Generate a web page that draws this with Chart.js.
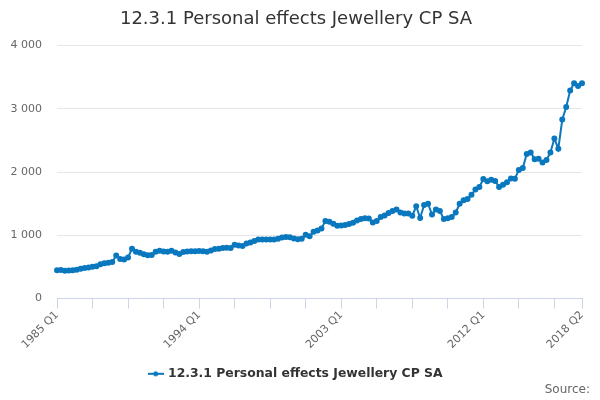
<!DOCTYPE html>
<html>
<head>
<meta charset="utf-8">
<script src="https://cdn.jsdelivr.net/npm/chart.js@4"></script>
<style>
  html, body { margin: 0; padding: 0; background: #fff; }
  #wrap { width: 600px; height: 400px; }
</style>
</head>
<body>
<div id="wrap"><canvas id="chart"></canvas></div>
<script>
// quarters 1985 Q1 .. 2018 Q2
const startYear = 1985;
const quarterCount = 134;
const quarters = [];
for (let i = 0; i < quarterCount; i++) {
    quarters.push((startYear + Math.floor(i / 4)) + " Q" + (i % 4 + 1));
}

const tickLabels = ["1985 Q1", "1994 Q1", "2003 Q1", "2012 Q1", "2018 Q2"];
const yTicks = [0, 1000, 2000, 3000, 4000];

const jewelleryValues = [
    450, 452, 440, 445, 448, 455, 470, 485, 490, 505,
    510, 545, 560, 565, 580, 680, 625, 620, 650, 790,
    740, 725, 700, 685, 690, 740, 755, 745, 740, 755,
    730, 705, 735, 745, 750, 750, 752, 748, 740, 760,
    785, 790, 800, 805, 800, 850, 840, 830, 870, 885,
    910, 935, 935, 935, 935, 935, 945, 965, 975, 970,
    950, 938, 945, 1010, 985, 1055, 1075, 1110, 1225, 1215,
    1185, 1150, 1155, 1165, 1180, 1200, 1235, 1260, 1270, 1265,
    1205, 1225, 1290, 1315, 1355, 1385, 1410, 1360, 1345, 1345,
    1310, 1460, 1275, 1480, 1500, 1330, 1410, 1385, 1260, 1270,
    1290, 1360, 1500, 1555, 1575, 1640, 1725, 1765, 1890, 1855,
    1880, 1860, 1765, 1800, 1840, 1900, 1895, 2035, 2065, 2285,
    2310, 2205, 2210, 2150, 2190, 2310, 2530, 2370, 2830, 3030,
    3290, 3405, 3360, 3405
];

const seriesName = "12.3.1 Personal effects Jewellery CP SA";
const sourceText = "Source:";
const lineColor = "#0a78be";

// legend symbol: short line with a dot
const legendSymbol = document.createElement("canvas");
legendSymbol.width = 16;
legendSymbol.height = 10;
const lg = legendSymbol.getContext("2d");
lg.strokeStyle = lineColor;
lg.lineWidth = 2;
lg.beginPath();
lg.moveTo(0, 5);
lg.lineTo(16, 5);
lg.stroke();
lg.fillStyle = lineColor;
lg.beginPath();
lg.arc(8, 5, 2.5, 0, Math.PI * 2);
lg.fill();

function showTick(i) {
    return i % 9 === 0 || i === quarterCount - 1;
}

// credits text in the bottom right corner
const sourcePlugin = {
    id: "sourceText",
    afterDraw(chart) {
        const c = chart.ctx;
        c.save();
        c.font = "12px 'DejaVu Sans'";
        c.fillStyle = "#666666";
        c.textAlign = "right";
        c.textBaseline = "middle";
        c.fillText(sourceText, chart.width - 10, chart.height - 10);
        c.restore();
    }
};

new Chart(document.getElementById("chart").getContext("2d"), {
    type: "line",
    data: {
        labels: quarters,
        datasets: [{
            label: seriesName,
            data: jewelleryValues,
            borderColor: lineColor,
            backgroundColor: lineColor,
            borderWidth: 2,
            pointRadius: 2,
            pointHoverRadius: 3,
            tension: 0,
            fill: false
        }]
    },
    plugins: [sourcePlugin],
    options: {
        responsive: true,
        maintainAspectRatio: false,
        animation: false,
        layout: { padding: { left: 10, right: 18, top: 0, bottom: 10 } },
        scales: {
            x: {
                type: "category",
                offset: false,
                border: { display: true, color: "#ccd6eb", width: 1 },
                grid: {
                    drawOnChartArea: false,
                    drawTicks: true,
                    tickLength: 10,
                    tickColor: (ctx) => showTick(ctx.index) ? "#ccd6eb" : "rgba(0,0,0,0)"
                },
                afterFit: (axis) => {
                    axis.height = 65;
                    axis.paddingLeft = 0;
                },
                ticks: {
                    autoSkip: false,
                    minRotation: 45,
                    maxRotation: 45,
                    padding: 0,
                    color: "#666666",
                    font: { family: "DejaVu Sans", size: 11 },
                    callback: function (value, index) {
                        const lab = quarters[index];
                        return tickLabels.includes(lab) ? lab : "";
                    }
                }
            },
            y: {
                min: yTicks[0],
                max: yTicks[yTicks.length - 1],
                border: { display: false },
                grid: { color: "#e6e6e6", drawTicks: false },
                afterBuildTicks: (axis) => { axis.ticks = yTicks.map(v => ({ value: v })); },
                afterFit: (axis) => { axis.width = 47; },
                ticks: {
                    padding: 15,
                    color: "#666666",
                    font: { family: "DejaVu Sans", size: 11 },
                    callback: (v) => String(v).replace(/\B(?=(\d{3})+(?!\d))/g, " ")
                }
            }
        },
        plugins: {
            title: {
                display: true,
                text: seriesName,
                color: "#333333",
                font: { family: "DejaVu Sans", size: 18, weight: "normal" },
                padding: { top: 9, bottom: 15 }
            },
            legend: {
                position: "bottom",
                labels: {
                    usePointStyle: true,
                    pointStyle: legendSymbol,
                    color: "#333333",
                    font: { family: "DejaVu Sans", size: 12.4, weight: "bold" },
                    padding: 4
                }
            },
            tooltip: { enabled: false }
        }
    }
});
</script>
</body>
</html>
